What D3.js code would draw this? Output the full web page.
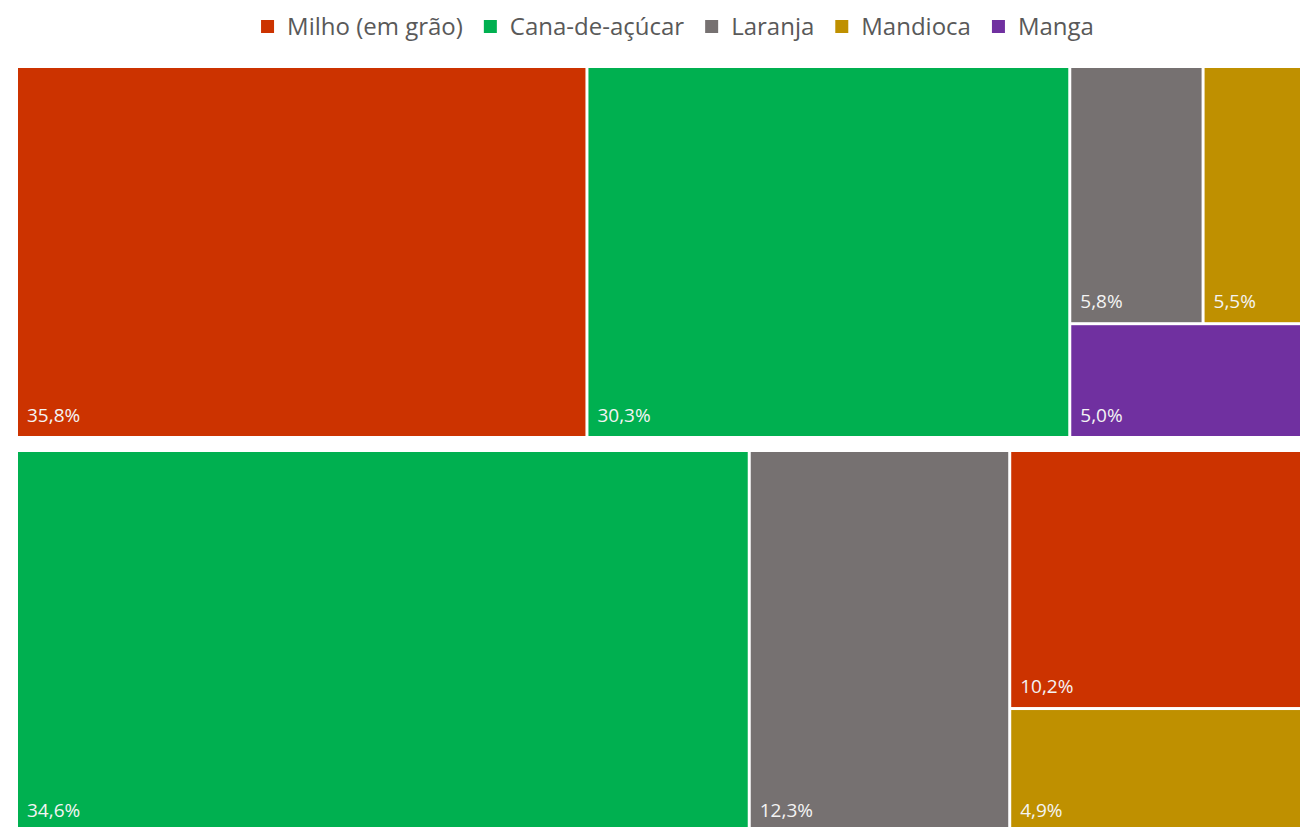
<!DOCTYPE html>
<html>
<head>
<meta charset="utf-8">
<script src="https://cdn.jsdelivr.net/npm/d3@7"></script>
<style>
  html, body { margin: 0; padding: 0; background: #ffffff; overflow: hidden; }
  svg { display: block; }
</style>
</head>
<body>
<svg id="chart" width="1300" height="827"></svg>
<script>
// ---- data ----
const categories = ["Milho (em grão)", "Cana-de-açúcar", "Laranja", "Mandioca", "Manga"];
const colors = ["#CC3300", "#00B050", "#767171", "#BF9000", "#7030A0"];

const group1Names = ["Milho (em grão)", "Cana-de-açúcar", "Laranja", "Mandioca", "Manga"];
const group1Values = [35.8, 30.3, 5.8, 5.5, 5.0];

const group2Names = ["Cana-de-açúcar", "Laranja", "Milho (em grão)", "Mandioca"];
const group2Values = [34.6, 12.3, 10.2, 4.9];

// ---- drawing ----
const svg = d3.select("#chart");
const color = d3.scaleOrdinal().domain(categories).range(colors);
const fmt = v => d3.format(".1f")(v).replace(".", ",") + "%";

const panels = [
  { names: group1Names, values: group1Values, x: 18, y: 68, w: 1310, h: 368 },
  { names: group2Names, values: group2Values, x: 18, y: 452, w: 1310, h: 379 }
];

panels.forEach(p => {
  const root = d3.hierarchy({ children: p.names.map((n, i) => ({ name: n, value: p.values[i] })) })
    .sum(d => d.value || 0);
  d3.treemap()
    .size([p.w, p.h])
    .paddingInner(3)
    .tile(d3.treemapSquarify.ratio(1.2))(root);

  const g = svg.append("g").attr("transform", `translate(${p.x},${p.y})`);
  const cell = g.selectAll("g.cell").data(root.leaves()).join("g").attr("class", "cell");
  cell.append("rect")
    .attr("x", d => d.x0)
    .attr("y", d => d.y0)
    .attr("width", d => d.x1 - d.x0)
    .attr("height", d => d.y1 - d.y0)
    .attr("fill", d => color(d.data.name));
  cell.append("text")
    .attr("x", d => d.x0 + 9)
    .attr("y", d => d.y1 - 14)
    .attr("fill", "#f4f4f4")
    .attr("font-family", "'Open Sans', 'Noto Sans', sans-serif")
    .attr("font-size", 19)
    .text(d => fmt(d.data.value));
});

// ---- legend ----
const legend = svg.append("g");
const items = legend.selectAll("g.item").data(categories).join("g").attr("class", "item");
items.append("rect")
  .attr("width", 13).attr("height", 13)
  .attr("y", 20)
  .attr("fill", d => color(d));
items.append("text")
  .attr("x", 26)
  .attr("y", 35)
  .attr("fill", "#595959")
  .attr("font-family", "'Open Sans', 'Noto Sans', sans-serif")
  .attr("font-size", 24)
  .text(d => d);
let xpos = 0;
const gap = 21;
items.each(function () {
  const t = d3.select(this).select("text").node().getComputedTextLength();
  d3.select(this).attr("transform", `translate(${xpos},0)`);
  xpos += 26 + t + gap;
});
const totalW = xpos - gap;
legend.attr("transform", `translate(${677.5 - totalW / 2},0)`);
</script>
</body>
</html>
